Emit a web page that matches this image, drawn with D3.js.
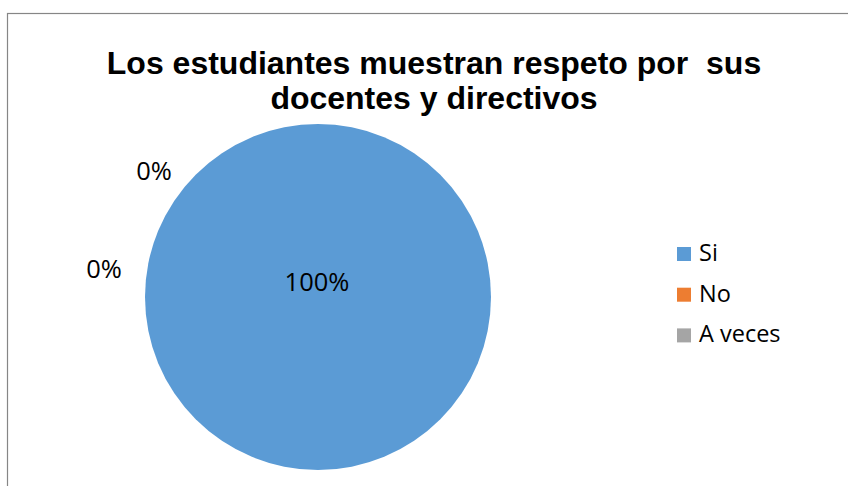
<!DOCTYPE html>
<html><head><meta charset="utf-8">
<script src="https://cdn.jsdelivr.net/npm/d3@7"></script>
<style>body{margin:0;background:#fff}svg{display:block}</style>
</head><body>
<script>
const categories = ["Si", "No", "A veces"];
const values = [100, 0, 0];
const colors = ["#5B9BD5", "#ED7D31", "#A5A5A5"];
const titleLines = ["Los estudiantes muestran respeto por  sus", "docentes y directivos"];

const W = 848, H = 486;
const svg = d3.select("body").append("svg").attr("width", W).attr("height", H);
svg.append("rect").attr("width", W).attr("height", H).attr("fill", "#fff");
svg.append("rect").attr("x", 7.5).attr("y", 13.5).attr("width", W + 10).attr("height", H + 10)
  .attr("fill", "none").attr("stroke", "#868686").attr("stroke-width", 1.2);

const title = svg.append("text").attr("text-anchor", "middle")
  .attr("font-family", "Liberation Sans, Arial, sans-serif").attr("font-weight", "bold")
  .attr("font-size", 32).attr("fill", "#000").style("white-space", "pre");
titleLines.forEach((t, i) => title.append("tspan").attr("x", 434).attr("y", 74 + i * 35).text(t));

const cx = 318, cy = 297, r = 173;
const total = d3.sum(values);
const pie = d3.pie().sort(null).value(d => d)(values);
const arc = d3.arc().innerRadius(0).outerRadius(r);
const g = svg.append("g").attr("transform", `translate(${cx},${cy})`);
g.selectAll("path").data(pie).join("path")
  .attr("d", arc).attr("fill", (d, i) => colors[i]);

const fmt = v => Math.round(v / total * 100) + "%";
const labelFont = "'Open Sans', sans-serif";
// label offsets from pie centre (big slice inside, zero slices placed outside)
const labelPos = [[-1, -6], [-164, -117], [-214, -19]];
g.selectAll("text.lbl").data(pie).join("text").attr("class", "lbl")
  .attr("x", (d, i) => labelPos[i][0]).attr("y", (d, i) => labelPos[i][1])
  .attr("text-anchor", "middle")
  .attr("font-family", labelFont).attr("font-size", 25.5).attr("fill", "#000")
  .text(d => fmt(d.data));

const leg = svg.append("g").attr("transform", "translate(677,247)");
categories.forEach((c, i) => {
  const row = leg.append("g").attr("transform", `translate(0,${i * 40.7})`);
  row.append("rect").attr("x", 0).attr("y", 0).attr("width", 14).attr("height", 14).attr("fill", colors[i]);
  row.append("text").attr("x", 22).attr("y", 14)
    .attr("font-family", labelFont).attr("font-size", 23.5).attr("fill", "#000").text(c);
});
</script>
</body></html>
